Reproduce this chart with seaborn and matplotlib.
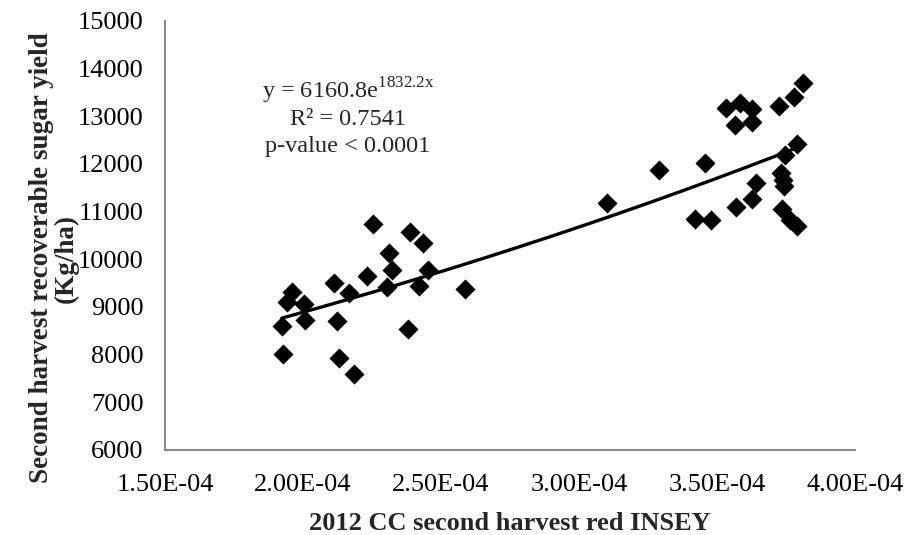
import numpy as np
import pandas as pd
import matplotlib
matplotlib.use("Agg")
import matplotlib.pyplot as plt
import seaborn as sns
from matplotlib.ticker import FuncFormatter

# 2012 CC second harvest red INSEY vs. second harvest recoverable sugar yield
red_insey = [
    2.255e-4, 2.388e-4, 2.434e-4, 2.313e-4, 2.322e-4, 2.231e-4, 2.453e-4,
    2.114e-4, 2.168e-4, 2.304e-4, 2.421e-4, 2.588e-4, 1.959e-4, 1.941e-4,
    2.002e-4, 1.923e-4, 2.008e-4, 2.124e-4, 2.380e-4, 1.929e-4, 2.132e-4,
    2.185e-4,
    3.813e-4, 3.780e-4, 3.724e-4, 3.532e-4, 3.585e-4, 3.627e-4, 3.566e-4,
    3.626e-4, 3.791e-4, 3.745e-4, 3.288e-4, 3.456e-4, 3.101e-4, 3.643e-4,
    3.732e-4, 3.738e-4, 3.743e-4, 3.625e-4, 3.570e-4, 3.736e-4, 3.420e-4,
    3.479e-4, 3.766e-4, 3.791e-4,
]
sugar_yield = [
    10737, 10563, 10345, 10123, 9773, 9647, 9773,
    9494, 9291, 9410, 9437, 9368, 9312, 9108,
    9060, 8599, 8725, 8704, 8530, 8012, 7922,
    7603,
    13686, 13399, 13217, 13162, 13284, 13152, 12818,
    12871, 12408, 12183, 11869, 12022, 11177, 11590,
    11816, 11670, 11544, 11261, 11104, 11062, 10836,
    10817, 10831, 10699,
]

# Exponential trendline fitted to the data
trend_a = 6160.8
trend_b = 1832.2
r_squared = 0.7541
p_text = "p-value < 0.0001"

x_ticks = [1.5e-4, 2.0e-4, 2.5e-4, 3.0e-4, 3.5e-4, 4.0e-4]
y_ticks = [6000, 7000, 8000, 9000, 10000, 11000, 12000, 13000, 14000, 15000]

sns.set_theme(style="white")
plt.rcParams["font.family"] = ["Liberation Serif", "DejaVu Serif"]
plt.rcParams["mathtext.fontset"] = "custom"
plt.rcParams["mathtext.rm"] = "Liberation Serif"

fig = plt.figure(figsize=(9.07, 5.35), dpi=100)
ax = fig.add_axes([0.1819, 0.1589, 0.7608, 0.8024])

df = pd.DataFrame({"insey": red_insey, "yield": sugar_yield})
xs = np.linspace(min(red_insey), max(red_insey), 200)
trend = pd.DataFrame({"insey": xs, "yield": trend_a * np.exp(trend_b * xs)})

sns.lineplot(data=trend, x="insey", y="yield", color="black", linewidth=2.4,
             ax=ax, zorder=2)
sns.scatterplot(data=df, x="insey", y="yield", marker="D", s=105,
                color="black", linewidth=0, ax=ax, zorder=3)

ax.set_xlim(x_ticks[0], x_ticks[-1])
ax.set_ylim(y_ticks[0], y_ticks[-1])
ax.set_xticks(x_ticks)
ax.set_yticks(y_ticks)
ax.xaxis.set_major_formatter(FuncFormatter(lambda v, _: f"{v:.2E}"))

spine_color = "#898989"
for side in ("top", "right"):
    ax.spines[side].set_visible(False)
for side in ("left", "bottom"):
    ax.spines[side].set_color(spine_color)
    ax.spines[side].set_linewidth(1.5)

ax.tick_params(axis="both", which="major", direction="out", length=5.5,
               width=1.3, color=spine_color, labelsize=19, labelcolor="black")
ax.tick_params(axis="x", pad=12)
ax.tick_params(axis="y", pad=10)

ax.set_xlabel("2012 CC second harvest red INSEY", fontsize=19,
              fontweight="bold", labelpad=11)
ax.set_ylabel("Second harvest recoverable sugar yield\n(Kg/ha)", fontsize=19.5,
              fontweight="bold", linespacing=1.0)
ax.yaxis.set_label_coords(-0.1246, 0.447)

ax.text(0.265, 0.8192, f"y = {trend_a}e$^{{\\mathregular{{{trend_b}x}}}}$",
        transform=ax.transAxes, ha="center", va="baseline", fontsize=17.5)
ax.text(0.265, 0.757, f"R² = {r_squared}", transform=ax.transAxes,
        ha="center", va="baseline", fontsize=17.5)
ax.text(0.265, 0.6949, p_text, transform=ax.transAxes,
        ha="center", va="baseline", fontsize=17.5)

fig.savefig("out.png", dpi=100, facecolor="white")
